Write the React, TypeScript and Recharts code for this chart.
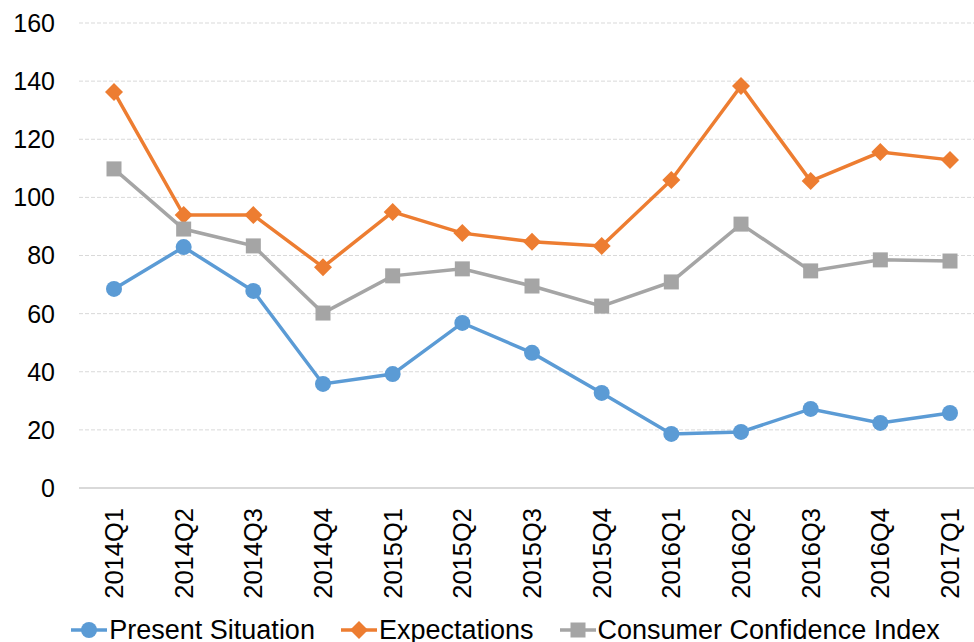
import React from "react";
import { CartesianGrid, Legend, Line, LineChart, XAxis, YAxis } from "recharts";

const QUARTERS = [
  "2014Q1", "2014Q2", "2014Q3", "2014Q4",
  "2015Q1", "2015Q2", "2015Q3", "2015Q4",
  "2016Q1", "2016Q2", "2016Q3", "2016Q4",
  "2017Q1",
];
const PRESENT = [68.5, 82.9, 67.8, 35.8, 39.2, 56.8, 46.5, 32.7, 18.6, 19.3, 27.2, 22.4, 25.8];
const EXPECTATIONS = [136.3, 93.9, 93.9, 76.0, 95.0, 87.7, 84.7, 83.3, 106.0, 138.3, 105.6, 115.6, 112.9];
const CCI = [109.8, 89.1, 83.3, 60.2, 73.0, 75.4, 69.5, 62.6, 70.9, 90.8, 74.7, 78.5, 78.1];
const Y_TICKS = [0, 20, 40, 60, 80, 100, 120, 140, 160];
const LEGEND_ORDER = ["present", "expectations", "cci"];

const BLUE = "#5B9BD5";
const ORANGE = "#ED7D31";
const GRAY = "#A5A5A5";
const FONT = "'Liberation Sans', Arial, sans-serif";

const data = QUARTERS.map((q, i) => ({
  q,
  present: PRESENT[i],
  expectations: EXPECTATIONS[i],
  cci: CCI[i],
}));

type Shape = "circle" | "diamond" | "square";

function marker(shape: Shape, cx: number, cy: number, color: string, key?: string | number) {
  if (shape === "circle") return <circle key={key} cx={cx} cy={cy} r={8} fill={color} />;
  if (shape === "diamond") {
    const s = 9;
    return (
      <polygon key={key} points={`${cx},${cy - s} ${cx + s},${cy} ${cx},${cy + s} ${cx - s},${cy}`} fill={color} />
    );
  }
  return <rect key={key} x={cx - 7.5} y={cy - 7.5} width={15} height={15} fill={color} />;
}

const dotFor = (shape: Shape, color: string) => (p: any) =>
  marker(shape, p.cx, p.cy, color, p.index);

const SHAPES: Record<string, Shape> = { present: "circle", expectations: "diamond", cci: "square" };

function XTick({ x, y, payload }: any) {
  return (
    <g transform={`translate(${x},${y + 20})`}>
      <text transform="rotate(-90)" textAnchor="end" dy="0.35em" fontSize={25.5} fill="#000" fontFamily={FONT}>
        {payload.value}
      </text>
    </g>
  );
}

function LegendContent({ payload }: any) {
  const items = [...(payload || [])].sort(
    (a: any, b: any) => LEGEND_ORDER.indexOf(a.dataKey) - LEGEND_ORDER.indexOf(b.dataKey)
  );
  return (
    <div style={{ display: "flex", justifyContent: "center", gap: 26, paddingLeft: 26, fontFamily: FONT, fontSize: 27, color: "#000", lineHeight: "30px" }}>
      {items.map((e: any) => (
        <div key={e.dataKey} style={{ display: "flex", alignItems: "center" }}>
          <svg width={36} height={20} style={{ marginRight: 2 }}>
            <line x1={0} y1={10} x2={36} y2={10} stroke={e.color} strokeWidth={3.5} />
            {marker(SHAPES[e.dataKey], 18, 10, e.color)}
          </svg>
          <span>{e.value}</span>
        </div>
      ))}
    </div>
  );
}

export default function App() {
  return (
    <div style={{ position: "absolute", left: 0, top: 0, width: 974, height: 642, overflow: "hidden", background: "#fff" }}>
      <LineChart width={1000} height={645} data={data} margin={{ top: 23, right: 15, bottom: 0, left: 0 }}>
        <CartesianGrid vertical={false} stroke="#d9d9d9" strokeDasharray="4 2" />
        <XAxis
          dataKey="q"
          interval={0}
          tickLine={false}
          tickSize={0}
          tickMargin={0}
          height={127}
          padding={{ left: 35, right: 35 }}
          axisLine={{ stroke: "#d9d9d9", strokeWidth: 2 }}
          tick={<XTick />}
        />
        <YAxis
          domain={[0, 160]}
          ticks={Y_TICKS}
          width={79}
          axisLine={false}
          tickLine={false}
          tickSize={0}
          tickMargin={24}
          tick={{ fontSize: 25, fill: "#000", fontFamily: FONT }}
        />
        <Legend verticalAlign="bottom" height={30} content={<LegendContent />} />
        <Line dataKey="present" name="Present Situation" stroke={BLUE} strokeWidth={3.5} dot={dotFor("circle", BLUE)} activeDot={false} isAnimationActive={false} />
        <Line dataKey="expectations" name="Expectations" stroke={ORANGE} strokeWidth={3.5} dot={dotFor("diamond", ORANGE)} activeDot={false} isAnimationActive={false} />
        <Line dataKey="cci" name="Consumer Confidence Index" stroke={GRAY} strokeWidth={3.5} dot={dotFor("square", GRAY)} activeDot={false} isAnimationActive={false} />
      </LineChart>
    </div>
  );
}
